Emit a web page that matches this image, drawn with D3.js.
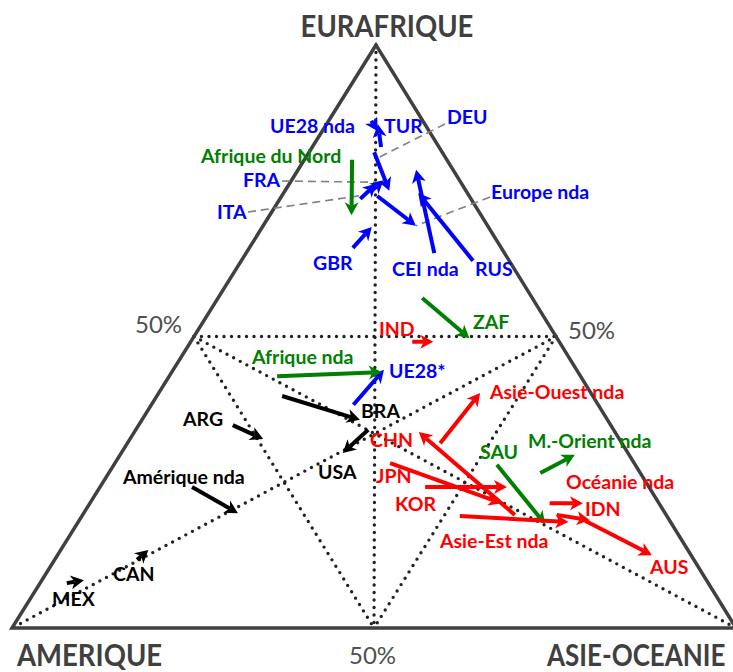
<!DOCTYPE html>
<html><head><meta charset="utf-8">
<script src="https://cdn.jsdelivr.net/npm/d3@7"></script>
<style>html,body{margin:0;padding:0;background:#fff;}svg{display:block;}</style>
</head><body>
<script>
// ---------- DATA (shares in %: Eurafrique, Amérique, Asie-Océanie) ----------
const names = ["UE28 nda","TUR","DEU","FRA","ITA","Europe nda","CEI nda","RUS","GBR","UE28*",
  "Afrique du Nord","ZAF","Afrique nda","SAU","M.-Orient nda",
  "IND","Asie-Ouest nda","CHN","JPN","KOR","Asie-Est nda","IDN","Océanie nda","AUS",
  "BRA","USA","ARG","Amérique nda","CAN","MEX"];
const groups = ["eu","eu","eu","eu","eu","eu","eu","eu","eu","eu",
  "af","af","af","af","af",
  "as","as","as","as","as","as","as","as","as",
  "am","am","am","am","am","am"];
const startEur = [87.0,82.5,81.6,74.8,73.6,74.1,64.3,63.0,65.2,38.3, 80.3,56.6,43.2,28.0,26.6, 49.1,31.7,19.4,28.3,24.2,19.2,21.4,19.4,18.4, 39.8,34.0,34.8,24.2,11.7,7.7];
const startAme = [7.1,8.0,9.4,13.3,15.3,12.7,9.7,5.0,20.5,33.8, 13.1,15.2,41.9,19.1,13.8, 20.3,25.1,20.9,33.7,30.9,28.6,15.1,15.1,11.7, 42.9,33.9,52.2,63.1,76.9,88.6];
const startAsi = [5.9,9.5,9.0,11.9,11.1,13.2,26.0,32.0,14.3,27.9, 6.6,28.2,14.9,52.9,59.6, 30.6,43.2,59.7,38.0,44.9,52.2,63.5,65.5,69.9, 17.3,32.1,13.0,12.7,11.4,3.7];
const endEur = [85.2,86.4,75.0,76.8,76.2,69.0,78.6,74.6,68.8,44.3, 70.8,49.7,43.9,17.8,29.7, 49.1,40.3,33.6,21.4,24.2,18.2,21.4,18.5,12.5, 35.7,30.0,32.4,19.7,13.4,8.2];
const endAme = [7.1,6.5,10.6,10.5,11.8,9.9,5.1,6.8,16.1,26.6, 17.9,12.1,27.1,17.5,7.5, 17.4,15.3,27.1,21.7,19.6,14.1,10.5,11.0,5.4, 34.2,39.4,49.2,59.0,74.5,86.0];
const endAsi = [7.7,7.1,14.4,12.7,12.0,21.1,16.3,18.6,15.1,29.1, 11.3,38.2,29.0,64.7,62.8, 33.5,44.4,39.3,56.9,56.2,67.7,68.1,70.5,82.1, 30.1,30.6,18.4,21.3,12.1,5.8];
const axisTitles = ["EURAFRIQUE","AMERIQUE","ASIE-OCEANIE"];
const midLabels = ["50%","50%","50%"];

// ---------- LAYOUT ----------
const W = 733, H = 672;
const vTop = [376,45], vLeft = [12,628], vRight = [736,628];
const colors = {eu:"#0000FF", af:"#008000", as:"#FF0000", am:"#000000"};
const labelPos = {
  "UE28 nda":[270,133],"TUR":[384,133],"DEU":[447,124],"FRA":[243,187],"ITA":[217,219],
  "Europe nda":[491,199],"CEI nda":[392,276],"RUS":[475,276],"GBR":[313,270],"UE28*":[389,378],
  "Afrique du Nord":[201,163],"ZAF":[473,329],"Afrique nda":[252,364],"SAU":[480,459],"M.-Orient nda":[528,448],
  "IND":[379,336],"Asie-Ouest nda":[490,399],"CHN":[370,447],"JPN":[376,483],"KOR":[395,511],
  "Asie-Est nda":[440,548],"IDN":[585,516],"Océanie nda":[566,489],"AUS":[650,574],
  "BRA":[361,418],"USA":[318,479],"ARG":[183,426],"Amérique nda":[123,484],"CAN":[113,581],"MEX":[52,606]
};
const leaders = [
  {name:"DEU", from:[445,124], end:"start", dx:3, dy:6},
  {name:"FRA", from:[282,181], end:"end", dx:-6, dy:2},
  {name:"ITA", from:[248,212], end:"start", dx:5, dy:-4},
  {name:"Europe nda", from:[490,197], end:"end", dx:0, dy:0}
];

// ---------- SCALES ----------
const yScale = d3.scaleLinear().domain([0,100]).range([vLeft[1], vTop[1]]);
const xShift = d3.scaleLinear().domain([0,100]).range([vLeft[0], vTop[0]]);
const xAsi = d3.scaleLinear().domain([0,100]).range([0, vRight[0]-vLeft[0]]);
function proj(e,a,c){
  const s = e+a+c; e = e*100/s; c = c*100/s;
  return [xShift(e) + xAsi(c), yScale(e)];
}

const svg = d3.select("body").append("svg").attr("width",W).attr("height",H)
  .style("font-family","Lato, 'Open Sans', sans-serif");

const mL = proj(50,50,0), mR = proj(50,0,50), mB = proj(0,50,50);
const A = proj(100,0,0), B = proj(0,100,0), C = proj(0,0,100);
const dotted = [[mL,mR],[mL,mB],[mR,mB],[A,mB],[mL,C],[mR,B]];
svg.append("g").selectAll("line").data(dotted).join("line")
  .attr("x1",d=>d[0][0]).attr("y1",d=>d[0][1]).attr("x2",d=>d[1][0]).attr("y2",d=>d[1][1])
  .attr("stroke","#222").attr("stroke-width",3.4).attr("stroke-linecap","round")
  .attr("stroke-dasharray","0,7.5");

svg.append("path").attr("d", d3.line()([A,B,C]) + "Z")
  .attr("fill","none").attr("stroke","#404040").attr("stroke-width",3.5);

const arrows = names.map((n,i)=>({name:n, g:groups[i],
  s:proj(startEur[i],startAme[i],startAsi[i]), e:proj(endEur[i],endAme[i],endAsi[i])}));

svg.append("g").selectAll("line").data(leaders).join("line")
  .each(function(d){
    const ar = arrows.find(a=>a.name===d.name);
    const p = d.end==="start" ? ar.s : ar.e;
    d3.select(this).attr("x1",d.from[0]).attr("y1",d.from[1]).attr("x2",p[0]+d.dx).attr("y2",p[1]+d.dy);
  })
  .attr("stroke","#808080").attr("stroke-width",1.6).attr("stroke-dasharray","8,5");

const HL = 13, HW = 7;
const ag = svg.append("g");
arrows.forEach(a=>{
  const dx = a.e[0]-a.s[0], dy = a.e[1]-a.s[1];
  const len = Math.hypot(dx,dy), ux = dx/len, uy = dy/len, nx = -uy, ny = ux;
  const T = a.e;
  const back = [T[0]-ux*HL, T[1]-uy*HL];
  const notch = [T[0]-ux*HL*0.72, T[1]-uy*HL*0.72];
  ag.append("line").attr("x1",a.s[0]).attr("y1",a.s[1]).attr("x2",notch[0]).attr("y2",notch[1])
    .attr("stroke",colors[a.g]).attr("stroke-width",4);
  ag.append("path").attr("d", d3.line()([T,[back[0]+nx*HW,back[1]+ny*HW],notch,[back[0]-nx*HW,back[1]-ny*HW]])+"Z")
    .attr("fill",colors[a.g]);
});

svg.append("g").selectAll("text").data(arrows).join("text")
  .attr("x",d=>labelPos[d.name][0]).attr("y",d=>labelPos[d.name][1])
  .attr("fill",d=>colors[d.g]).attr("font-size",19.5).attr("font-weight",700)
  .text(d=>d.name);

// axis titles: condensed look via font-size + vertical stretch
const titleSpec = [
  {x:387, y:37, anchor:"middle", size:27.5, sy:1.1},
  {x:17, y:666, anchor:"start", size:27.5, sy:1.1},
  {x:547, y:666, anchor:"start", size:26, sy:1.16}
];
svg.append("g").selectAll("text").data(axisTitles).join("text")
  .attr("transform",(d,i)=>`translate(${titleSpec[i].x},${titleSpec[i].y}) scale(1,${titleSpec[i].sy})`)
  .attr("text-anchor",(d,i)=>titleSpec[i].anchor)
  .attr("font-size",(d,i)=>titleSpec[i].size).attr("font-weight",700).attr("fill","#404040").text(d=>d);

const midSpec = [{x:135,y:333},{x:568,y:339},{x:349,y:664}];
svg.append("g").selectAll("text").data(midLabels).join("text")
  .attr("x",(d,i)=>midSpec[i].x).attr("y",(d,i)=>midSpec[i].y)
  .attr("font-size",24).attr("fill","#505050").text(d=>d);
</script>
</body></html>
